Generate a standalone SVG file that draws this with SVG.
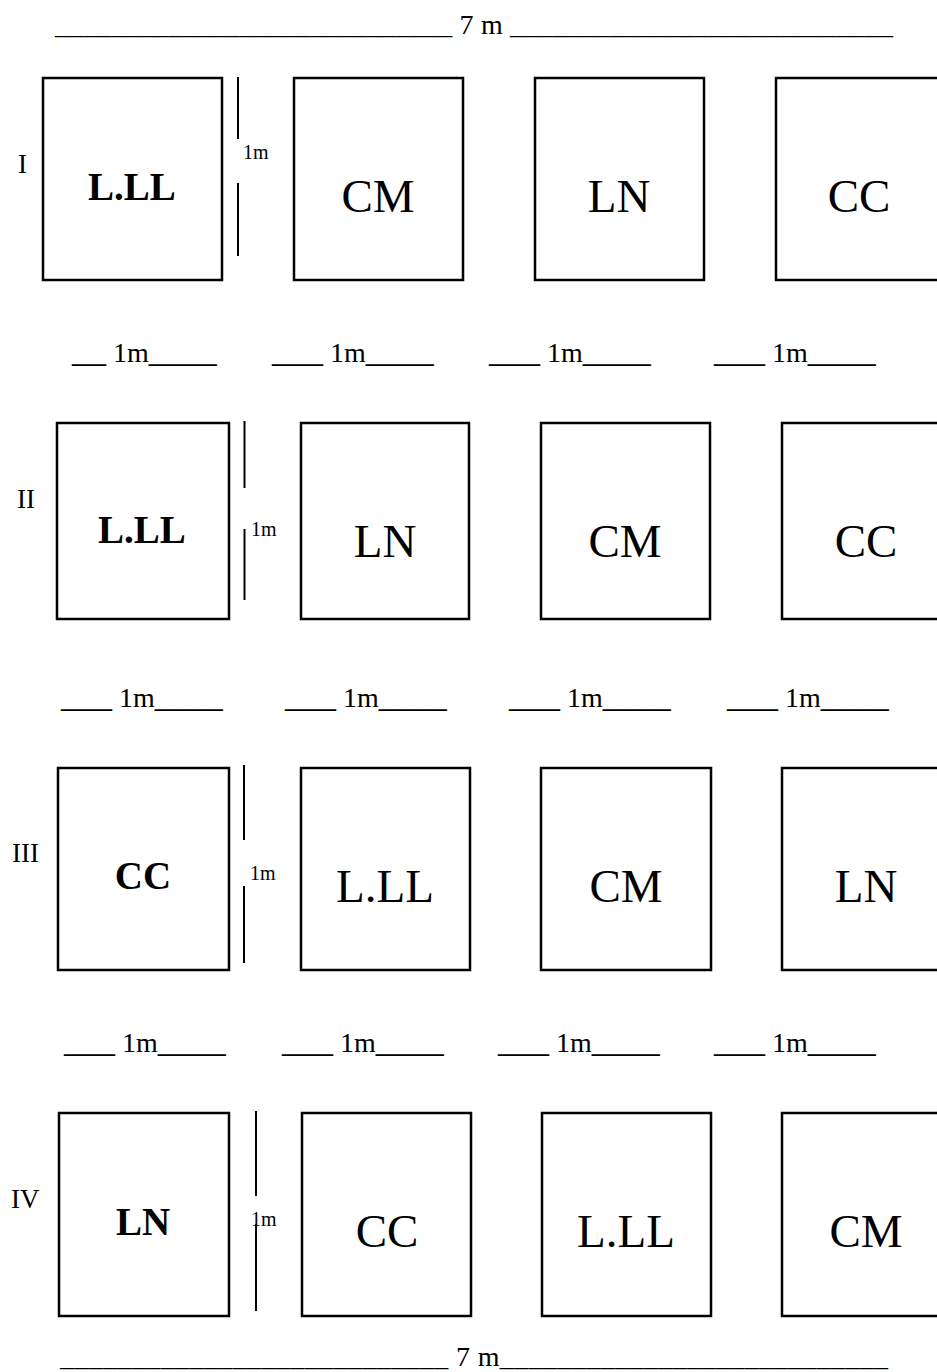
<svg xmlns="http://www.w3.org/2000/svg" width="937" height="1372" viewBox="0 0 937 1372">
<style>
text{font-family:"Liberation Serif","Times New Roman",serif;fill:#000}
.box{fill:#fff;stroke:#000;stroke-width:2.5}
.div{stroke:#000;stroke-width:2}
.big{font-size:47px;text-anchor:middle}
.bold{font-size:39px;font-weight:bold;text-anchor:middle}
.sm{font-size:20px}
.rl{font-size:27px}
.dim{font-size:28px}
.us{font-size:34px}
</style>
<rect width="937" height="1372" fill="#fff"/>
<text class="dim" x="55" y="34" textLength="838" lengthAdjust="spacing">____________________________ 7 m ___________________________</text>

<g id="row1">
<text class="rl" x="18" y="173">I</text>
<g id="r1n1"><rect class="box" x="43" y="78" width="179" height="202"/><text class="bold" x="132" y="200">L.LL</text></g>
<g id="r1n2"><rect class="box" x="294" y="78" width="169" height="202"/><text class="big" x="378" y="212">CM</text></g>
<g id="r1n3"><rect class="box" x="535" y="78" width="169" height="202"/><text class="big" x="619" y="212">LN</text></g>
<g id="r1n4"><rect class="box" x="776" y="78" width="200" height="202"/><text class="big" x="859" y="212">CC</text></g>
<line class="div" x1="238" y1="77" x2="238" y2="139"/><line class="div" x1="238" y1="183" x2="238" y2="256"/>
<text class="sm" x="243" y="159">1m</text>
</g>

<g id="gap1">
<text class="dim" x="72" y="362"><tspan class="us">__</tspan> 1m<tspan class="us">____</tspan></text>
<text class="dim" x="272" y="362"><tspan class="us">___</tspan> 1m<tspan class="us">____</tspan></text>
<text class="dim" x="489" y="362"><tspan class="us">___</tspan> 1m<tspan class="us">____</tspan></text>
<text class="dim" x="714" y="362"><tspan class="us">___</tspan> 1m<tspan class="us">____</tspan></text>
</g>

<g id="row2">
<text class="rl" x="17" y="508">II</text>
<g id="r2n1"><rect class="box" x="57" y="423" width="172" height="196"/><text class="bold" x="142" y="543">L.LL</text></g>
<g id="r2n2"><rect class="box" x="301" y="423" width="168" height="196"/><text class="big" x="385" y="557">LN</text></g>
<g id="r2n3"><rect class="box" x="541" y="423" width="169" height="196"/><text class="big" x="625" y="557">CM</text></g>
<g id="r2n4"><rect class="box" x="782" y="423" width="200" height="196"/><text class="big" x="866" y="557">CC</text></g>
<line class="div" x1="244.5" y1="421" x2="244.5" y2="488"/><line class="div" x1="244.5" y1="529" x2="244.5" y2="600"/>
<text class="sm" x="251" y="536">1m</text>
</g>

<g id="gap2">
<text class="dim" x="61" y="707"><tspan class="us">___</tspan> 1m<tspan class="us">____</tspan></text>
<text class="dim" x="285" y="707"><tspan class="us">___</tspan> 1m<tspan class="us">____</tspan></text>
<text class="dim" x="509" y="707"><tspan class="us">___</tspan> 1m<tspan class="us">____</tspan></text>
<text class="dim" x="727" y="707"><tspan class="us">___</tspan> 1m<tspan class="us">____</tspan></text>
</g>

<g id="row3">
<text class="rl" x="12" y="862">III</text>
<g id="r3n1"><rect class="box" x="58" y="768" width="171" height="202"/><text class="bold" x="143" y="889">CC</text></g>
<g id="r3n2"><rect class="box" x="301" y="768" width="169" height="202"/><text class="big" x="385" y="902">L.LL</text></g>
<g id="r3n3"><rect class="box" x="541" y="768" width="170" height="202"/><text class="big" x="626" y="902">CM</text></g>
<g id="r3n4"><rect class="box" x="782" y="768" width="200" height="202"/><text class="big" x="866" y="902">LN</text></g>
<line class="div" x1="244" y1="765" x2="244" y2="840"/><line class="div" x1="244" y1="886" x2="244" y2="963"/>
<text class="sm" x="250" y="880">1m</text>
</g>

<g id="gap3">
<text class="dim" x="64" y="1052"><tspan class="us">___</tspan> 1m<tspan class="us">____</tspan></text>
<text class="dim" x="282" y="1052"><tspan class="us">___</tspan> 1m<tspan class="us">____</tspan></text>
<text class="dim" x="498" y="1052"><tspan class="us">___</tspan> 1m<tspan class="us">____</tspan></text>
<text class="dim" x="714" y="1052"><tspan class="us">___</tspan> 1m<tspan class="us">____</tspan></text>
</g>

<g id="row4">
<text class="rl" x="11" y="1208">IV</text>
<g id="r4n1"><rect class="box" x="59" y="1113" width="170" height="203"/><text class="bold" x="143" y="1235">LN</text></g>
<g id="r4n2"><rect class="box" x="302" y="1113" width="169" height="203"/><text class="big" x="387" y="1247">CC</text></g>
<g id="r4n3"><rect class="box" x="542" y="1113" width="169" height="203"/><text class="big" x="626" y="1247">L.LL</text></g>
<g id="r4n4"><rect class="box" x="782" y="1113" width="200" height="203"/><text class="big" x="866" y="1247">CM</text></g>
<line class="div" x1="256" y1="1111" x2="256" y2="1196"/><line class="div" x1="256" y1="1224" x2="256" y2="1311"/>
<text class="sm" x="251" y="1226">1m</text>
</g>

<text class="dim" x="60" y="1366" textLength="828" lengthAdjust="spacing">___________________________ 7 m___________________________</text>
</svg>
